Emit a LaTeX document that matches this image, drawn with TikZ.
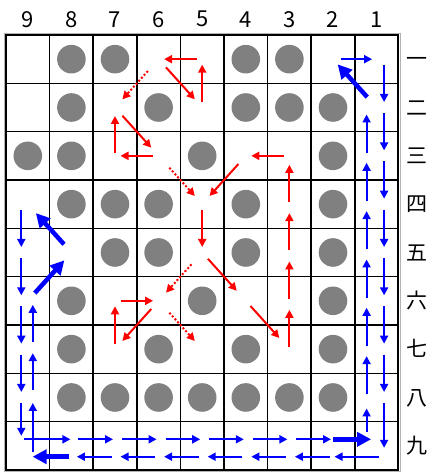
\documentclass[tikz,border=0pt]{standalone}
\usepackage{fontspec}
\setmainfont{Noto Sans CJK JP}
\usetikzlibrary{arrows.meta}

\tikzset{
  stone/.style={fill=gray},
  label/.style={font=\fontsize{22pt}{26pt}\selectfont, inner sep=0pt},
  kanji/.style={label, font=\fontsize{21pt}{25pt}\selectfont, text height=0.88em, text depth=0.12em},
  redmv/.style={draw=red, line width=2pt, -{Triangle[length=8pt,width=8pt]}, shorten <=5.5pt, shorten >=5.5pt},
  reddiag/.style={redmv, shorten <=11pt, shorten >=11pt},
  redtry/.style={redmv, dash pattern=on 2pt off 2pt, shorten <=16pt, shorten >=11pt},
  bluemv/.style={draw=blue, line width=1.9pt, -{Triangle[length=8pt,width=8pt]}, shorten <=5.5pt, shorten >=5.5pt},
  bluejump/.style={bluemv, line width=4.5pt, -{Triangle[length=14pt,width=14pt]}},
}

\begin{document}
\begin{tikzpicture}[x=43.6pt, y=-48.33pt]
    \useasboundingbox (-6pt,35pt) rectangle (424pt,-437pt);

    % board
    \draw[gray!60, line width=0.8pt] ([shift={(-1.5pt,1.2pt)}]0,0) rectangle ([shift={(1.5pt,-1.5pt)}]9,9);
    \foreach \i in {1,...,8} {
        \draw[line width=1.5pt] (\i,0) -- (\i,9);
        \draw[line width=1.5pt] (0,\i) -- (9,\i);
    }
    \draw[line width=2pt] (0,0) rectangle (9,9);

    % squares: s<column><row>
    \foreach \c in {1,...,9}
        \foreach \r in {1,...,9}
            \coordinate (s\c\r) at ({9.5-\c},{\r-0.5});

    \foreach \sq in {81,71,41,31, 82,62,42,32,22, 93,83,53,23, 84,74,64,44,24,
                     75,65,45,25, 86,56,26, 87,67,47,27, 88,78,68,58,48,38,28}
        \fill[stone] (s\sq) circle[radius=14.3pt];

    % red loops
    \draw[redmv] (s51) -- (s61);
    \draw[reddiag] (s61) -- (s52);
    \draw[redmv] (s52) -- (s51);
    \draw[redtry] (s61) -- (s72);

    \draw[reddiag] (s72) -- (s63);
    \draw[redmv] (s63) -- (s73);
    \draw[redmv, shorten <=2.5pt, shorten >=8.5pt] (s73) -- (s72);
    \draw[redtry] (s63) -- (s54);

    \draw[redmv] (s54) -- (s55);
    \draw[reddiag, shorten <=8.5pt, shorten >=13.5pt] (s55) -- (s46);
    \draw[reddiag, shorten <=7pt, shorten >=15pt] (s46) -- (s37);
    \foreach \r [evaluate=\r as \n using int(\r-1)] in {7,6,5,4}
        \draw[redmv, shorten <=2pt, shorten >=9pt] (s3\r) -- (s3\n);
    \draw[redmv] (s33) -- (s43);
    \draw[reddiag] (s43) -- (s54);
    \draw[redtry] (s55) -- (s66);

    \draw[redmv] (s76) -- (s66);
    \draw[reddiag] (s66) -- (s77);
    \draw[redmv] (s77) -- (s76);
    \draw[redtry] (s66) -- (s57);

    % blue round trip, column 1
    \draw[bluemv, shorten <=8pt, shorten >=4.5pt] (s21) -- (s11);
    \draw[bluejump, shorten <=14pt, shorten >=7pt] (s12) -- (s21);
    \foreach \r [evaluate=\r as \n using int(\r+1)] in {1,...,7}
        \draw[bluemv] ([xshift=7.5pt]s1\r) -- ([xshift=7.5pt]s1\n);
    \draw[bluemv, shorten >=-2pt] ([xshift=7.5pt]s18) -- ([xshift=7.5pt]s19);
    \foreach \r [evaluate=\r as \n using int(\r+1)] in {2,...,7}
        \draw[bluemv, shorten <=3pt, shorten >=7pt] ([xshift=-10pt]s1\n) -- ([xshift=-10pt]s1\r);
    \draw[bluemv, shorten <=14pt, shorten >=11pt] ([xshift=-10pt]s19) -- ([xshift=-10pt]s18);

    % row 9
    \draw[bluemv, shorten <=-4pt, shorten >=1pt] ([yshift=6.5pt]s99) -- ([yshift=6.5pt]s89);
    \foreach \c [evaluate=\c as \n using int(\c-1)] in {8,...,3}
        \draw[bluemv, shorten <=7pt, shorten >=2pt] ([yshift=6.5pt]s\c9) -- ([yshift=6.5pt]s\n9);
    \draw[bluejump, shorten <=0pt, shorten >=5.5pt] ([yshift=6.5pt]s29) -- ([yshift=6.5pt]s19);
    \draw[bluemv, shorten <=-2.7pt, shorten >=1.5pt] ([yshift=-10.9pt]s19) -- ([yshift=-10.9pt]s29);
    \foreach \c [evaluate=\c as \n using int(\c+1)] in {2,...,7}
        \draw[bluemv, shorten <=3.5pt, shorten >=5.5pt] ([yshift=-10.9pt]s\c9) -- ([yshift=-10.9pt]s\n9);
    \draw[bluejump, shorten <=2.4pt, shorten >=4.8pt] ([yshift=-10.9pt]s89) -- ([yshift=-10.9pt]s99);

    % column 9
    \draw[bluemv, shorten <=-6pt] ([xshift=5pt]s99) -- ([xshift=5pt]s98);
    \foreach \r [evaluate=\r as \n using int(\r-1)] in {8,7}
        \draw[bluemv, shorten <=7pt, shorten >=4pt] ([xshift=5pt]s9\r) -- ([xshift=5pt]s9\n);
    \draw[bluejump, shorten <=10.5pt, shorten >=10.5pt] (s96) -- (s85);
    \draw[bluejump, shorten <=11pt, shorten >=12pt] (s85) -- (s94);
    \foreach \r [evaluate=\r as \n using int(\r+1)] in {4,...,7}
        \draw[bluemv] ([xshift=-6.5pt]s9\r) -- ([xshift=-6.5pt]s9\n);
    \draw[bluemv, shorten >=10pt] ([xshift=-6.5pt]s98) -- ([xshift=-6.5pt]s99);

    % coordinates
    \foreach \c in {1,...,9}
        \node[label] (num\c) at ({9.5-\c},-0.327) {\c};
    \foreach \r/\k in {1/一,2/二,3/三,4/四,5/五,6/六,7/七,8/八,9/九}
        \node[kanji] (kan\r) at (9.427,{\r-0.5+0.08}) {\k};
\end{tikzpicture}
\end{document}
